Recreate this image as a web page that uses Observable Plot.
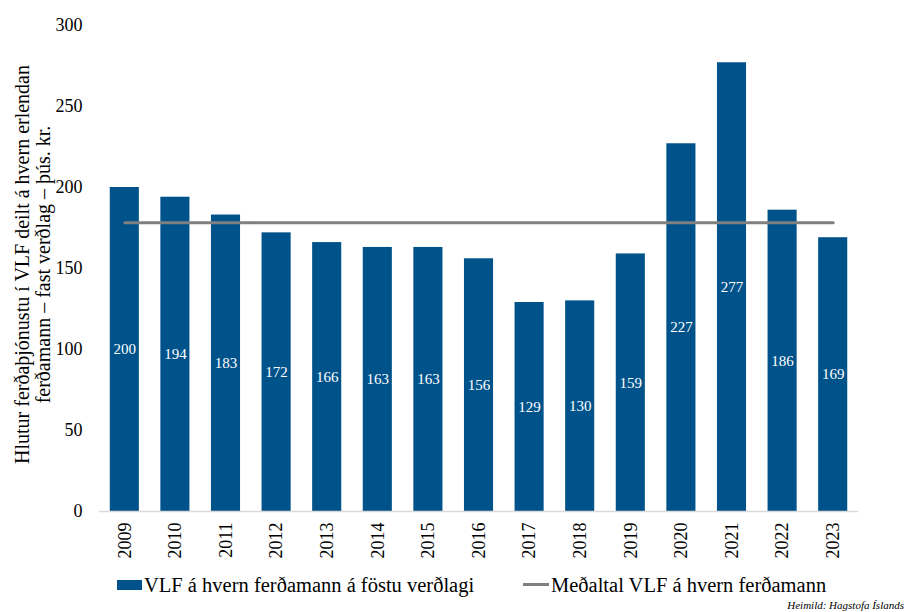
<!DOCTYPE html>
<html><head><meta charset="utf-8">
<script src="https://cdn.jsdelivr.net/npm/d3@7"></script>
<script src="https://cdn.jsdelivr.net/npm/@observablehq/plot@0.6"></script>
<style>
body{margin:0;background:#fff;font-family:"Liberation Serif","Times New Roman",serif;}
#wrap{position:relative;width:906px;height:612px;overflow:hidden;}
.leg{position:absolute;font-size:20.5px;line-height:20px;color:#000;white-space:nowrap;}
.sw{position:absolute;}
#src{position:absolute;right:2px;top:599px;font-size:11px;font-style:italic;color:#000;white-space:nowrap;}
</style></head><body><div id="wrap"></div>
<script>
const years = ["2009","2010","2011","2012","2013","2014","2015","2016","2017","2018","2019","2020","2021","2022","2023"];
const values = [200,194,183,172,166,163,163,156,129,130,159,227,277,186,169];
const yTicks = [0,50,100,150,200,250,300];
const barLabel = "VLF á hvern ferðamann á föstu verðlagi";
const avgLabel = "Meðaltal VLF á hvern ferðamann";
const yTitle = ["Hlutur ferðaþjónustu í VLF deilt á hvern erlendan", "ferðamann – fast verðlag – þús. kr."];
const source = "Heimild: Hagstofa Íslands";

const barColor = "#00538a";
const avgColor = "#808080";

const data = years.map((y, i) => ({year: y, value: values[i]}));
const avg = d3.mean(values);
const avgData = years.map(y => ({year: y, value: avg}));

const plot = Plot.plot({
  width: 906, height: 565,
  marginLeft: 99, marginRight: 48, marginTop: 25, marginBottom: 54,
  style: {fontFamily: "'Liberation Serif', 'Times New Roman', serif", fontSize: "18px", color: "#000", background: "#fff", overflow: "visible"},
  x: {type: "band", domain: years, paddingInner: 0.425, paddingOuter: 0.2125, round: false, label: null},
  y: {domain: [0, 300], label: null},
  marks: [
    Plot.barY(data, {x: "year", y: "value", fill: barColor}),
    Plot.ruleY([0], {stroke: "#d9d9d9", strokeWidth: 1.5}),
    Plot.lineY(avgData, {x: "year", y: "value", stroke: avgColor, strokeWidth: 3}),
    Plot.text(data, {x: "year", y: d => d.value / 2, text: d => String(d.value), fill: "white", fontSize: 15}),
    Plot.axisY({ticks: yTicks, tickSize: 0, tickPadding: 17, fontSize: 18, label: null}),
    Plot.axisX({tickSize: 0, tickPadding: 11, tickRotate: -90, fontSize: 18, label: null}),
    Plot.text([yTitle.join("\n")], {frameAnchor: "left", textAnchor: "middle", lineAnchor: "middle", dx: -67, dy: -4, rotate: -90, fontSize: 20, lineHeight: 1.05, fill: "#000"})
  ]
});

const wrap = document.getElementById("wrap");
wrap.appendChild(plot);

function add(html) { wrap.insertAdjacentHTML("beforeend", html); }
add(`<div class="sw" style="left:117px;top:580px;width:25px;height:10px;background:${barColor}"></div>`);
add(`<div class="leg" style="left:144px;top:575px">${barLabel}</div>`);
add(`<div class="sw" style="left:523px;top:583px;width:26px;height:3px;background:${avgColor}"></div>`);
add(`<div class="leg" style="left:551px;top:575px">${avgLabel}</div>`);
add(`<div id="src">${source}</div>`);
</script>
</body></html>
